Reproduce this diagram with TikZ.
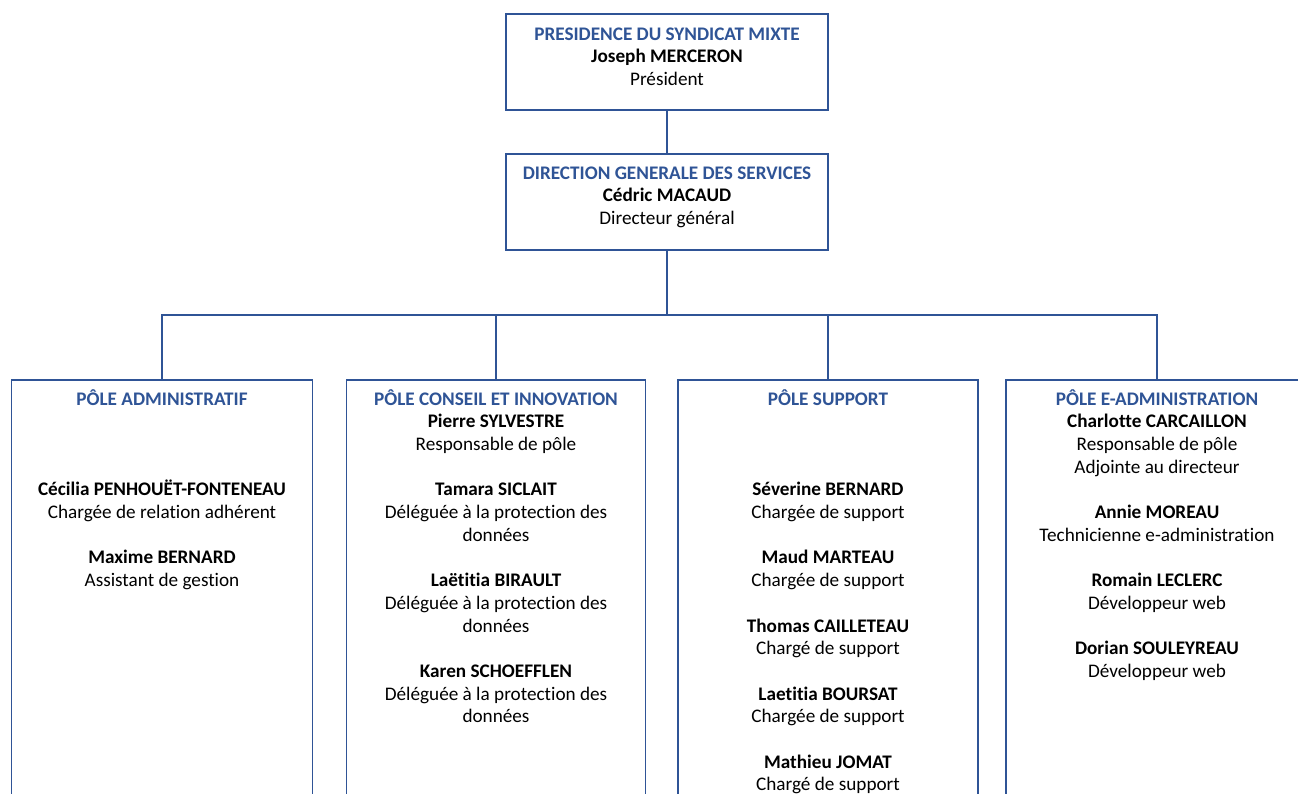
\documentclass[tikz,border=0pt]{standalone}
\usepackage{fontspec}
\setmainfont[Ligatures=NoCommon]{Carlito}
\definecolor{frame}{HTML}{2F5496}
\definecolor{ttl}{HTML}{2F5496}
\newcommand{\ttl}[1]{\textcolor{ttl}{\textbf{#1}}}
\begin{document}
\begin{tikzpicture}[x=1pt,y=-1pt,
  box/.style={draw=frame,line width=1.6pt,inner sep=0pt,fill=white},
  txt/.style={anchor=north,inner sep=0pt,align=center,font=\fontsize{19.2}{22.7}\selectfont},
  link/.style={draw=frame,line width=1.6pt}]
\useasboundingbox (0,0) rectangle (1298,794);
\clip (0,0) rectangle (1298,794);
\node[box,minimum width=322pt,minimum height=96pt] (pres) at (667,62) {};
\node[box,minimum width=322pt,minimum height=96pt] (dg) at (667,202) {};
\node[box,minimum width=301pt,minimum height=500pt] (p1) at (162,630) {};
\node[box,minimum width=299pt,minimum height=500pt] (p2) at (496,630) {};
\node[box,minimum width=300pt,minimum height=500pt] (p3) at (828,630) {};
\node[box,minimum width=302pt,minimum height=500pt] (p4) at (1157,630) {};
\coordinate (hub) at (667,315);
\draw[link] (pres) -- (dg);
\draw[link] (dg) -- (hub);
\draw[link] (p1.north) |- (hub) -| (p4.north);
\draw[link] (p2.north) -- (p2.north |- hub);
\draw[link] (p3.north) -- (p3.north |- hub);

\node[txt] (presT) at (667,24) {\strut\ttl{PRESIDENCE DU SYNDICAT MIXTE}\\\textbf{Joseph MERCERON}\\Président};
\node[txt] (dgT) at (667,163) {\strut\ttl{DIRECTION GENERALE DES SERVICES}\\\textbf{Cédric MACAUD}\\Directeur général};
\node[txt] (p1T) at (162,389) {\strut\ttl{PÔLE ADMINISTRATIF}\\[68.1pt]
\textbf{Cécilia PENHOUËT-FONTENEAU}\\Chargée de relation adhérent\\[22.7pt]
\textbf{Maxime BERNARD}\\Assistant de gestion};
\node[txt] (p2T) at (496,389) {\strut\ttl{PÔLE CONSEIL ET INNOVATION}\\
\textbf{Pierre SYLVESTRE}\\Responsable de pôle\\[22.7pt]
\textbf{Tamara SICLAIT}\\Déléguée à la protection des\\données\\[22.7pt]
\textbf{Laëtitia BIRAULT}\\Déléguée à la protection des\\données\\[22.7pt]
\textbf{Karen SCHOEFFLEN}\\Déléguée à la protection des\\données};
\node[txt] (p3T) at (828,389) {\strut\ttl{PÔLE SUPPORT}\\[68.1pt]
\textbf{Séverine BERNARD}\\Chargée de support\\[22.7pt]
\textbf{Maud MARTEAU}\\Chargée de support\\[22.7pt]
\textbf{Thomas CAILLETEAU}\\Chargé de support\\[22.7pt]
\textbf{Laetitia BOURSAT}\\Chargée de support\\[22.7pt]
\textbf{Mathieu JOMAT}\\Chargé de support};
\node[txt] (p4T) at (1157,389) {\strut\ttl{PÔLE E-ADMINISTRATION}\\
\textbf{Charlotte CARCAILLON}\\Responsable de pôle\\Adjointe au directeur\\[22.7pt]
\textbf{Annie MOREAU}\\Technicienne e-administration\\[22.7pt]
\textbf{Romain LECLERC}\\Développeur web\\[22.7pt]
\textbf{Dorian SOULEYREAU}\\Développeur web};
\end{tikzpicture}
\end{document}
